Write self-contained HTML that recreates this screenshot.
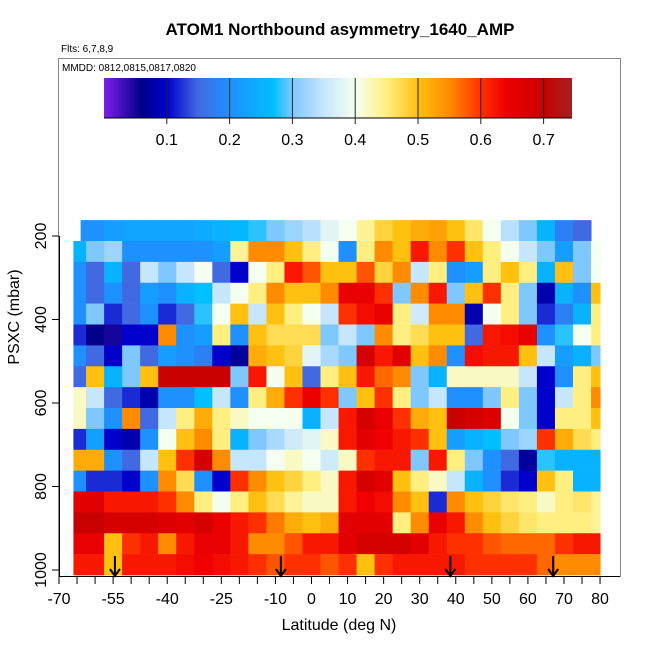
<!DOCTYPE html>
<html><head><meta charset="utf-8"><style>
body{margin:0;background:#fff;}
svg text{font-family:"Liberation Sans",sans-serif;}
</style></head><body>
<svg id="chart" width="650" height="650" xmlns="http://www.w3.org/2000/svg">
<rect width="650" height="650" fill="#fff"/>
<text x="340" y="35" font-size="17" font-weight="bold" text-anchor="middle">ATOM1 Northbound asymmetry_1640_AMP</text>
<text x="61" y="52" font-size="10">Flts: 6,7,8,9</text>
<rect x="58.5" y="58.5" width="562" height="518" fill="none" stroke="#888" stroke-width="1"/>
<text x="62" y="71" font-size="10">MMDD: 0812,0815,0817,0820</text>
<g id="heat"></g>
<g id="cbar"></g>
<g id="axes"></g>
<text transform="translate(19,317) rotate(-90)" font-size="16" text-anchor="middle">PSXC (mbar)</text>
<text x="339" y="630" font-size="16" text-anchor="middle">Latitude (deg N)</text>
</svg>
<script>
const latCenters=[-65,-60,-55,-50,-45,-40,-35,-30,-25,-20,-15,-10,-5,0,5,10,15,20,25,30,35,40,45,50,55,60,65,70,75,80];
const rowPressures=[187,237,287,337,387,437,487,537,587,637,687,737,787,837,887,937,987];
const row0=[0.2,0.2,0.22,0.23,0.23,0.23,0.23,0.24,0.25,0.26,0.28,0.3,0.32,0.34,0.38,0.4,0.44,0.48,0.5,0.52,0.53,0.5,0.46,0.4,0.34,0.3,0.25,0.18,0.15,null];
const row1=[0.25,0.3,0.32,0.2,0.2,0.2,0.2,0.2,0.22,0.44,0.55,0.55,0.5,0.45,0.4,0.2,0.45,0.55,0.5,0.62,0.55,0.6,0.5,0.45,0.4,0.35,0.3,0.22,0.3,0.4];
const row2=[0.2,0.15,0.25,0.15,0.35,0.3,0.35,0.4,0.15,0.1,0.4,0.45,0.62,0.58,0.5,0.5,0.58,0.48,0.55,0.35,0.45,0.2,0.22,0.45,0.5,0.45,0.25,0.5,0.3,0.4];
const row3=[0.2,0.15,0.2,0.15,0.22,0.2,0.25,0.27,0.35,0.4,0.45,0.55,0.5,0.5,0.55,0.65,0.65,0.6,0.3,0.55,0.62,0.3,0.5,0.6,0.45,0.3,0.08,0.25,0.2,0.5];
const row4=[0.2,0.3,0.12,0.15,0.2,0.12,0.15,0.28,0.4,0.5,0.35,0.5,0.45,0.4,0.35,0.6,0.63,0.65,0.45,0.36,0.55,0.55,0.08,0.4,0.45,0.3,0.12,0.18,0.25,0.45];
const row5=[0.12,0.06,0.05,0.1,0.1,0.55,0.2,0.22,0.45,0.2,0.5,0.47,0.47,0.47,0.3,0.35,0.3,0.55,0.45,0.47,0.5,0.5,0.15,0.62,0.63,0.65,0.2,0.28,0.4,0.45];
const row6=[0.2,0.15,0.1,0.3,0.15,0.22,0.2,0.18,0.1,0.07,0.52,0.5,0.48,0.38,0.33,0.3,0.68,0.62,0.66,0.5,0.55,0.2,0.63,0.62,0.62,0.5,0.35,0.22,0.25,0.3];
const row7=[0.15,0.5,0.25,0.3,0.5,0.7,0.7,0.7,0.7,0.3,0.62,0.4,0.5,0.15,0.45,0.5,0.62,0.57,0.55,0.3,0.25,0.42,0.42,0.42,0.42,0.35,0.1,0.2,0.45,0.5];
const row8=[0.42,0.35,0.15,0.12,0.08,0.2,0.2,0.27,0.35,0.2,0.45,0.52,0.6,0.65,0.6,0.3,0.5,0.6,0.45,0.3,0.35,0.2,0.2,0.3,0.45,0.3,0.1,0.35,0.45,0.55];
const row9=[0.42,0.3,0.2,0.55,0.15,0.35,0.45,0.52,0.45,0.42,0.4,0.4,0.4,0.25,0.35,0.62,0.68,0.65,0.6,0.52,0.5,0.7,0.68,0.67,0.4,0.3,0.1,0.45,0.45,0.5];
const row10=[0.12,0.22,0.1,0.08,0.2,0.4,0.5,0.55,0.45,0.25,0.3,0.33,0.36,0.38,0.42,0.62,0.66,0.64,0.62,0.6,0.5,0.22,0.25,0.27,0.3,0.32,0.6,0.52,0.47,0.45];
const row11=[0.52,0.52,0.2,0.15,0.35,0.5,0.6,0.68,0.55,0.35,0.35,0.4,0.42,0.4,0.36,0.42,0.6,0.62,0.62,0.3,0.62,0.45,0.3,0.2,0.15,0.07,0.28,0.25,0.25,0.25];
const row12=[0.2,0.12,0.12,0.1,0.2,0.55,0.47,0.2,0.1,0.6,0.55,0.5,0.48,0.45,0.42,0.62,0.68,0.66,0.5,0.45,0.42,0.35,0.25,0.2,0.12,0.1,0.5,0.45,0.25,0.25];
const row13=[0.66,0.66,0.62,0.62,0.62,0.6,0.55,0.45,0.4,0.45,0.5,0.47,0.44,0.42,0.42,0.62,0.64,0.63,0.55,0.5,0.12,0.55,0.5,0.48,0.46,0.45,0.42,0.45,0.46,0.44];
const row14=[0.7,0.7,0.68,0.68,0.68,0.67,0.66,0.68,0.65,0.62,0.6,0.56,0.52,0.5,0.52,0.66,0.66,0.66,0.45,0.55,0.65,0.62,0.55,0.5,0.48,0.46,0.45,0.45,0.45,0.44];
const row15=[0.65,0.65,0.5,0.6,0.62,0.55,0.62,0.65,0.65,0.62,0.55,0.55,0.58,0.62,0.62,0.66,0.68,0.68,0.68,0.66,0.62,0.6,0.6,0.58,0.57,0.57,0.57,0.6,0.62,0.62];
const row16=[0.62,0.62,0.5,0.62,0.62,0.62,0.63,0.64,0.63,0.62,0.6,0.58,0.6,0.6,0.58,0.6,0.5,0.6,0.62,0.62,0.62,0.62,0.6,0.6,0.6,0.6,0.57,0.55,0.55,0.55];
const rows=[row0,row1,row2,row3,row4,row5,row6,row7,row8,row9,row10,row11,row12,row13,row14,row15,row16];
const xTicks=[-70,-55,-40,-25,-10,0,10,20,30,40,50,60,70,80];
const yTicks=[200,400,600,800,1000];
const cbTicks=[0.1,0.2,0.3,0.4,0.5,0.6,0.7];
const arrowLats=[-54.5,-8.5,38.5,67];

const NS="http://www.w3.org/2000/svg";
const X=l=>59+(l+70)*3.607;
const Y=p=>236+(p-200)*0.4175;
const CB=v=>104+v*628;
const stops=[[0,[127,31,232]],[0.06,[0,0,139]],[0.1,[0,0,205]],[0.15,[65,105,225]],[0.2,[30,144,255]],[0.27,[0,191,255]],[0.3,[126,200,255]],[0.35,[198,230,251]],[0.4,[245,255,240]],[0.45,[255,239,128]],[0.5,[255,192,16]],[0.55,[255,140,0]],[0.6,[255,48,0]],[0.64,[240,0,0]],[0.7,[200,0,0]],[0.745,[165,32,32]]];
function col(v){
  if(v<=0)return`rgb(${stops[0][1]})`;
  for(let i=1;i<stops.length;i++){if(v<=stops[i][0]){const a=stops[i-1],b=stops[i],t=(v-a[0])/(b[0]-a[0]);return`rgb(${a[1].map((c,k)=>Math.round(c+(b[1][k]-c)*t))})`;}}
  return`rgb(${stops[stops.length-1][1]})`;
}
function mk(tag,attrs,parent){const e=document.createElementNS(NS,tag);for(const k in attrs)e.setAttribute(k,attrs[k]);parent.appendChild(e);return e;}
const heat=document.getElementById('heat');
rows.forEach((r,ri)=>{
  const p=rowPressures[ri];
  const y0=Y(p-25),y1=Y(p+25);
  r.forEach((v,ci)=>{
    if(v===null)return;
    const lc=latCenters[ci];
    let x0=X(lc-2.5),x1=X(Math.min(lc+2.5,80));
    if(ri===0){x0=Math.max(x0,X(-64));x1=Math.min(x1,X(77.8));}
    else x0=Math.max(x0,X(-66));
    const e=mk('rect',{x:x0,y:y0,width:x1-x0+0.5,height:y1-y0+0.3,fill:col(v)},heat);
    
    
  });
});
arrowLats.forEach(l=>{
  const g=mk('g',{stroke:'#000','stroke-width':2,fill:'none'},heat);
  
  
  mk('line',{x1:X(l),y1:556,x2:X(l),y2:576},g);
  mk('polyline',{points:`${X(l)-5},569 ${X(l)},576 ${X(l)+5},569`},g);
});
const cb=document.getElementById('cbar');
const grad=mk('linearGradient',{id:'cg',x1:0,x2:1,y1:0,y2:0},mk('defs',{},cb));
for(let v=0;v<=0.745;v+=0.005){mk('stop',{offset:(v/0.745).toFixed(4),'stop-color':col(v)},grad);}
mk('rect',{x:104,y:78,width:468,height:40,fill:'url(#cg)'},cb);
mk('line',{x1:104,y1:118,x2:572,y2:118,stroke:'#000'},cb);
cbTicks.forEach(v=>{
  const t=mk('line',{x1:CB(v),y1:78,x2:CB(v),y2:124,stroke:'#222','stroke-width':1},cb);
  
  
  const tx=mk('text',{x:CB(v),y:145,'font-size':16,'text-anchor':'middle'},cb);
  tx.textContent=v.toFixed(1);
  
  
});
const ax=document.getElementById('axes');
mk('line',{x1:59,y1:576.5,x2:620,y2:576.5,stroke:'#000'},ax);
mk('line',{x1:59.5,y1:236,x2:59.5,y2:576,stroke:'#000'},ax);
for(let l=-70;l<=80;l+=5){mk('line',{x1:X(l),y1:577,x2:X(l),y2:584,stroke:'#000'},ax);}
xTicks.forEach(l=>{
  const t=mk('text',{x:X(l),y:604,'font-size':16,'text-anchor':'middle'},ax);
  t.textContent=String(l).replace('-','-');
  
  
});
yTicks.forEach(p=>{
  mk('line',{x1:52,y1:Y(p),x2:59,y2:Y(p),stroke:'#000'},ax);
  const t=mk('text',{transform:`translate(46,${Y(p)}) rotate(-90)`,'font-size':16,'text-anchor':'middle'},ax);
  t.textContent=p;
  
  
});
</script>
</body></html>
